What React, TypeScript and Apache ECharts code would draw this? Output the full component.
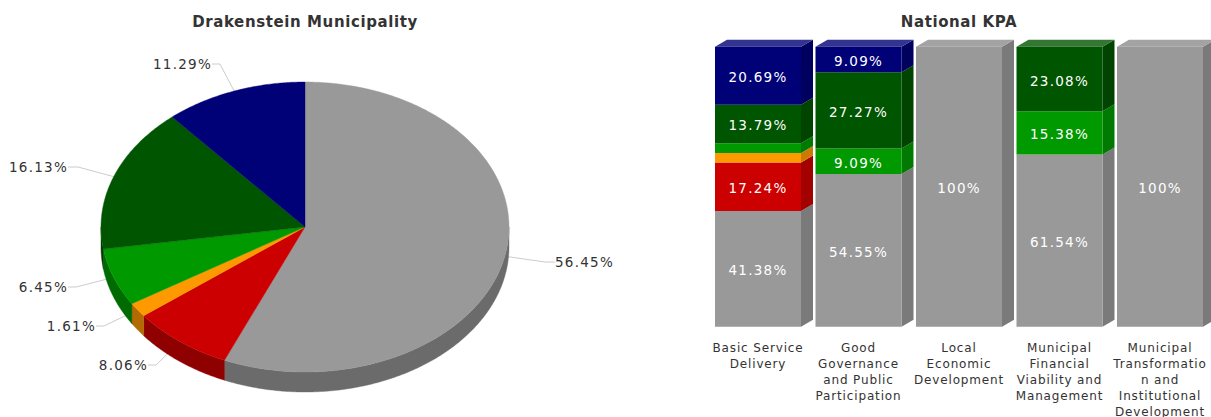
import React, { useEffect, useRef } from "react";
import * as echarts from "echarts";

// ---- data ----
const pieNames = ["Not met", "Partially met", "Below target", "Met", "Exceeded", "Far exceeded"];
const pieValues = [56.45, 8.06, 1.61, 6.45, 16.13, 11.29];

const categories = [
  "Basic Service\nDelivery",
  "Good\nGovernance\nand Public\nParticipation",
  "Local\nEconomic\nDevelopment",
  "Municipal\nFinancial\nViability and\nManagement",
  "Municipal\nTransformatio\nn and\nInstitutional\nDevelopment",
];
const grayValues = [41.38, 54.55, 100, 61.54, 100];
const redValues = [17.24, 0, 0, 0, 0];
const orangeValues = [3.45, 0, 0, 0, 0];
const greenValues = [3.45, 9.09, 0, 15.38, 0];
const darkGreenValues = [13.79, 27.27, 0, 23.08, 0];
const navyValues = [20.69, 9.09, 0, 0, 0];
const stackValues = [grayValues, redValues, orangeValues, greenValues, darkGreenValues, navyValues];

// ---- styling / layout ----
const frontColors = ["#999999", "#cc0000", "#ff9900", "#009900", "#005500", "#000077"];
const sideColors = ["#6b6b6b", "#8f0000", "#b36b00", "#006b00", "#003b00", "#000053"];
const barSideColors = ["#7a7a7a", "#a30000", "#cc7a00", "#007a00", "#004400", "#00005f"];
const barTopColors = ["#a3a3a3", "#d63333", "#ffad33", "#33ad33", "#337733", "#333392"];

const PIE = { cx: 305, cy: 227, rx: 204, ry: 145, depth: 20 };
const BAR = { half: 43, dx: 12, dy: 7 };
// right-hand end of each label's connector: [textEdgeX, y, elbowX]
const pieLabelAnchors: [number, number, number][] = [
  [555, 262, 545],
  [148, 365, 156],
  [96, 326, 104],
  [68, 287, 76],
  [68, 167, 78],
  [212, 64, 220],
];

const LABEL = "#333333";
const FONT = "'DejaVu Sans', Verdana, sans-serif";

const rim = (deg: number, yOff = 0): [number, number] => {
  const t = (deg * Math.PI) / 180;
  return [PIE.cx + PIE.rx * Math.sin(t), PIE.cy - PIE.ry * Math.cos(t) + yOff];
};
const arc = (a: number, b: number, yOff = 0) => {
  const pts: [number, number][] = [];
  const n = Math.max(2, Math.ceil(Math.abs(b - a) / 0.5));
  for (let i = 0; i <= n; i++) pts.push(rim(a + ((b - a) * i) / n, yOff));
  return pts;
};

const total = pieValues.reduce((s, v) => s + v, 0);
const startAngles = pieValues.map((_, i) =>
  (pieValues.slice(0, i).reduce((s, v) => s + v, 0) / total) * 360
);

const renderPie = (params: any, api: any) => {
  const i = params.dataIndex;
  const a = startAngles[i];
  const b = a + (api.value(0) / total) * 360;
  const mid = (a + b) / 2;
  const children: any[] = [];
  const [tx, ty, ex] = pieLabelAnchors[i];
  const onRight = mid < 180;
  children.push({
    type: "polyline",
    z2: 1,
    shape: { points: [[tx, ty], [ex, ty], rim(mid)] },
    style: { stroke: "#cccccc", lineWidth: 1, fill: "none" },
  });
  const wa = Math.max(a, 90);
  const wb = Math.min(b, 270);
  if (wb > wa) {
    const wall = [...arc(wa, wb), ...arc(wb, wa, PIE.depth)];
    children.push({
      type: "polygon",
      z2: 2,
      shape: { points: wall },
      style: { fill: sideColors[i], stroke: sideColors[i], lineWidth: 0.4 },
    });
  }
  children.push({
    type: "polygon",
    z2: 3,
    shape: { points: [[PIE.cx, PIE.cy], ...arc(a, b)] },
    style: { fill: frontColors[i], stroke: frontColors[i], lineWidth: 0.4 },
  });
  children.push({
    type: "text",
    z2: 4,
    x: tx,
    y: ty,
    style: {
      text: api.value(0).toFixed(2) + "%",
      fill: LABEL,
      font: `13.5px ${FONT}`,
      align: onRight ? "left" : "right",
      verticalAlign: "middle",
    },
  });
  return { type: "group", children };
};

const bar3dData: number[][] = [];
categories.forEach((_, c) => {
  let base = 0;
  stackValues.forEach((vals, s) => {
    if (vals[c] > 0) {
      bar3dData.push([c, base, base + vals[c], s]);
      base += vals[c];
    }
  });
});

const renderBar3d = (_: any, api: any) => {
  const c = api.value(0);
  const s = api.value(3);
  const lo = api.coord([c, api.value(1)]);
  const hi = api.coord([c, api.value(2)]);
  const xl = lo[0] - BAR.half;
  const xr = lo[0] + BAR.half;
  const children: any[] = [
    {
      type: "polygon",
      shape: {
        points: [
          [xr, lo[1]],
          [xr + BAR.dx, lo[1] - BAR.dy],
          [xr + BAR.dx, hi[1] - BAR.dy],
          [xr, hi[1]],
        ],
      },
      style: { fill: barSideColors[s], stroke: "none", lineWidth: 0 },
    },
  ];
  if (api.value(2) >= 99.99) {
    children.push({
      type: "polygon",
      shape: {
        points: [
          [xl, hi[1]],
          [xl + BAR.dx, hi[1] - BAR.dy],
          [xr + BAR.dx, hi[1] - BAR.dy],
          [xr, hi[1]],
        ],
      },
      style: { fill: barTopColors[s], stroke: "none", lineWidth: 0 },
    });
  }
  return { type: "group", children };
};

const barLabelMin = 5;
const textCss = `#kpa-chart text{letter-spacing:1.25px}#kpa-chart text[style*="12px"]{letter-spacing:.85px}#kpa-chart text[style*="bold"]{letter-spacing:.6px}`;

export default function App() {
  const ref = useRef<HTMLDivElement>(null);
  useEffect(() => {
    document.body.style.margin = "0";
    const chart = echarts.init(ref.current!, null, { renderer: "svg" });
    chart.setOption({
      animation: false,
      backgroundColor: "#ffffff",
      title: [
        {
          text: "Drakenstein Municipality",
          left: 300,
          top: 9,
          textAlign: "center",
          textStyle: { fontFamily: FONT, fontSize: 15, fontWeight: "bold", color: "#333333" },
        },
        {
          text: "National KPA",
          left: 954,
          top: 9,
          textAlign: "center",
          textStyle: { fontFamily: FONT, fontSize: 15, fontWeight: "bold", color: "#333333" },
        },
      ],
      grid: { left: 707.75, top: 46.75, width: 502.5, height: 280, containLabel: false, outerBoundsMode: "none" },
      xAxis: {
        type: "category",
        data: categories,
        axisLine: { show: false },
        axisTick: { show: false },
        axisLabel: {
          interval: 0,
          color: LABEL,
          fontFamily: FONT,
          fontSize: 12,
          lineHeight: 16,
          margin: 13,
          hideOverlap: false,
        },
      },
      yAxis: { type: "value", min: 0, max: 100, show: false },
      series: [
        {
          type: "custom",
          name: "Drakenstein Municipality",
          coordinateSystem: "none",
          renderItem: renderPie,
          data: pieValues.map((v, i) => ({ name: pieNames[i], value: [v] })),
          silent: true,
        },
        {
          type: "custom",
          name: "3D faces",
          renderItem: renderBar3d,
          data: bar3dData,
          encode: { x: 0, y: 2 },
          silent: true,
          z: 1,
        },
        ...stackValues.map((vals, s) => ({
          type: "bar",
          stack: "kpa",
          z: 2,
          barWidth: BAR.half * 2,
          data: vals,
          itemStyle: { color: frontColors[s] },
          label: {
            show: true,
            position: "inside",
            offset: [0, 1.5],
            color: "#ffffff",
            fontFamily: FONT,
            fontSize: 13.5,
            formatter: (p: any) =>
              p.value >= barLabelMin ? `${p.value}%` : "",
          },
        })),
      ],
    });
    return () => chart.dispose();
  }, []);
  return (
    <>
      <style>{textCss}</style>
      <div
        id="kpa-chart"
        ref={ref}
        style={{ position: "absolute", left: 0, top: 0, width: 1211, height: 417 }}
      />
    </>
  );
}
